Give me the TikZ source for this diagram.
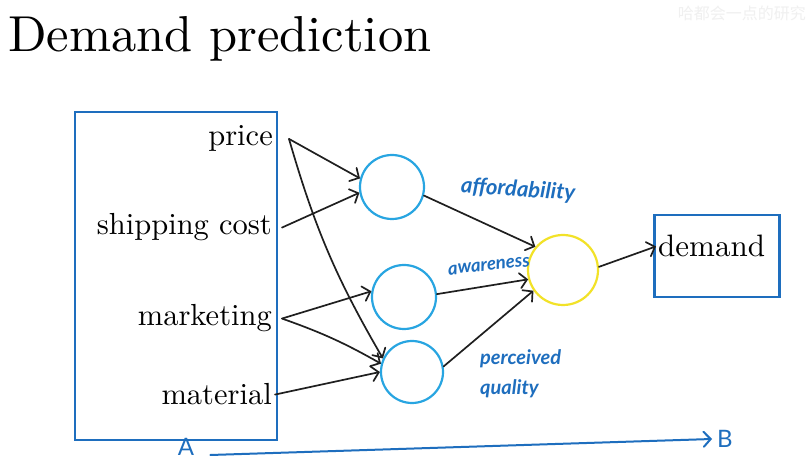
\documentclass[tikz,border=0pt]{standalone}
\usepackage{fontspec}
\usetikzlibrary{arrows.meta,calc}
\newfontfamily\cjk{Noto Sans CJK SC}
\newfontfamily\hand{Lato}
\newfontfamily\lmten{lmroman10-regular.otf}
\definecolor{penblue}{RGB}{30,110,190}
\definecolor{cyanpen}{RGB}{40,165,225}
\definecolor{yelpen}{RGB}{242,226,40}
\tikzset{
  feat/.style={anchor=base east, font=\lmten\fontsize{30.5}{36}\selectfont, inner sep=0pt},
  unit/.style={circle, draw=cyanpen, line width=2.2pt, minimum size=64pt, inner sep=0pt},
  link/.style={draw=black!88, line width=1.7pt, line cap=round,
    -{Straight Barb[length=7pt,width=15pt,line cap=round]}},
  note/.style={text=penblue, font=\hand\bfseries\itshape\fontsize{20}{30}\selectfont, inner sep=0pt},
  penbox/.style={draw=penblue, line width=2.2pt, inner sep=0pt},
  penletter/.style={text=penblue, font=\hand\fontsize{24}{24}\selectfont, inner sep=0pt},
}
\begin{document}
\begin{tikzpicture}[x=1pt,y=-1pt]
  \useasboundingbox[fill=white] (0,0) rectangle (812,462);

  % heading and faint channel mark
  \node[anchor=base west, font=\lmten\fontsize{50.5}{60}\selectfont, inner sep=0pt] (title) at (8,52) {Demand prediction};
  \node[text=black!6, font=\cjk\fontsize{16}{16}\selectfont, anchor=north east, inner sep=0pt] (wm) at (806,6) {哈都会一点的研究};

  % input features
  \node[penbox, minimum width=202pt, minimum height=328pt] (inputs) at (176,276) {};
  \node[feat] (price) at (273,146) {price};
  \node[feat] (ship)  at (272,235) {shipping cost};
  \node[feat] (mkt)   at (272,326) {marketing};
  \node[feat] (mat)   at (272,405) {material};

  % hidden units and output unit
  \node[unit] (h1) at (392,187) {};
  \node[unit] (h2) at (404,297) {};
  \node[unit, minimum size=62pt] (h3) at (412,372) {};
  \node[unit, draw=yelpen, minimum size=70pt] (out) at (563,270) {};

  % output
  \node[penbox, minimum width=125pt, minimum height=82pt] (dbox) at (717,256) {};
  \node[anchor=base west, font=\lmten\fontsize{31}{36}\selectfont, inner sep=0pt] (demand) at (658,257) {demand};

  % connections into the hidden layer
  \draw[link] ([xshift=16pt]price.east) -- (h1.165);
  \draw[link] ([xshift=16pt]price.east) to[bend right=7] (h3.155);
  \draw[link] ([xshift=10pt]ship.east) -- (h1.190);
  \draw[link] ([xshift=10pt]mkt.east) -- (h2.170);
  \draw[link] ([xshift=10pt]mkt.east) to[bend left=5] (h3.165);
  \draw[link] ([xshift=3pt]mat.east) -- (h3.180);

  % connections into the output unit
  \draw[link] (h1.345) -- (out.140);
  \draw[link] (h2.5) -- (out.195);
  \draw[link] (h3.10) -- (out.215);
  \draw[link] (out.5) -- ([xshift=-2pt]demand.west);

  % hidden unit meanings
  \node[note, rotate=-4, font=\hand\bfseries\itshape\fontsize{22}{30}\selectfont] (lab1) at (518,190) {affordability};
  \node[note, rotate=6, font=\hand\bfseries\itshape\fontsize{18.5}{30}\selectfont] (lab2) at (489,266) {awareness};
  \node[note, align=left, anchor=north west] (lab3) at (480,349) {perceived\\quality};

  % A to B mapping
  \node[penletter] (A) at (186,447) {A};
  \node[penletter] (B) at (725,439) {B};
  \draw[draw=penblue, line width=2pt, line cap=round,
    -{Straight Barb[length=7pt,width=15pt,line cap=round]}]
    ([xshift=16pt,yshift=-8pt]A.east) -- ([xshift=-5pt]B.west);
\end{tikzpicture}
\end{document}
